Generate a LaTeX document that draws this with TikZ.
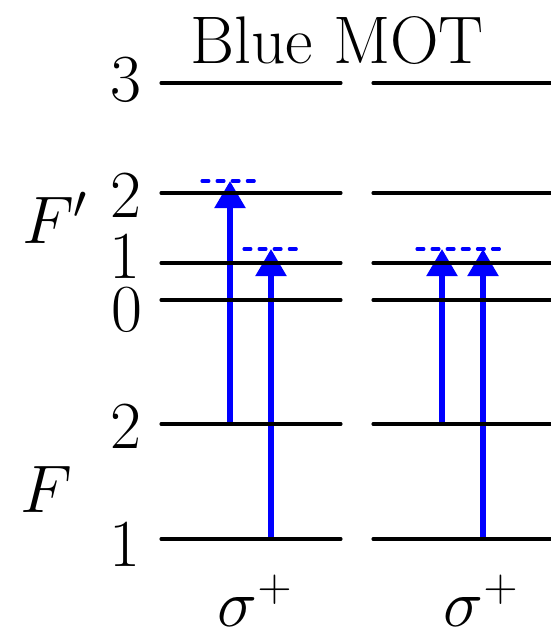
\RequirePackage{fix-cm}
\documentclass[tikz,border=0pt]{standalone}
\usetikzlibrary{arrows.meta}
\begin{document}
\begin{tikzpicture}[x=0.02cm,y=-0.02cm,
  lvl/.style={line width=1.75pt, black, line cap=round},
  lbl/.style={inner sep=0pt, font=\fontsize{38.3}{46}\selectfont},
  pump/.style={line width=3.1pt, blue, -{Triangle[length=0.54cm,width=0.6cm]}},
  virt/.style={line width=1.8pt, blue, dash pattern=on 3.9pt off 4.7pt, line cap=round}]
\useasboundingbox (0,0) rectangle (551,630);
% level coordinates
\foreach \n/\y in {e3/83, e2/193, e1/263, e0/300, g2/424, g1/539}{
  \coordinate (L\n) at (161,\y);
  \coordinate (R\n) at (341,\y);
  \coordinate (LL\n) at (373,\y);
  \coordinate (RR\n) at (560,\y);
}
% virtual levels
\coordinate (va1) at (202,181); \coordinate (vb1) at (258,181);
\coordinate (va2) at (244,249); \coordinate (vb2) at (299,249);
\coordinate (va3) at (417,249); \coordinate (vb3) at (502,249);
% arrow endpoints
\coordinate (p1s) at (230,424); \coordinate (p1e) at (230,181);
\coordinate (p2s) at (271,539); \coordinate (p2e) at (271,249);
\coordinate (p3s) at (442,424); \coordinate (p3e) at (442,249);
\coordinate (p4s) at (483,539); \coordinate (p4e) at (483,249);
% dashed virtual levels
\draw[virt] (va1) -- (vb1);
\draw[virt] (va2) -- (vb2);
\draw[virt] (va3) -- (vb3);
% pump arrows
\draw[pump] (p1s) -- (p1e);
\draw[pump] (p2s) -- (p2e);
\draw[pump] (p3s) -- (p3e);
\draw[pump] (p4s) -- (p4e);
% levels
\foreach \n in {e3,e2,e1,e0,g2,g1}{
  \draw[lvl] (L\n) -- (R\n);
  \draw[lvl] (LL\n) -- (RR\n);
}
% labels
\node[lbl] (t3) at (126,80) {$3$};
\node[lbl] (t2) at (126,196) {$2$};
\node[lbl] (t1) at (125,257) {$1$};
\node[lbl] (t0) at (127,310) {$0$};
\node[lbl] (tg2) at (126,427) {$2$};
\node[lbl] (tg1) at (125,545) {$1$};
\node[lbl,anchor=base] (Fp) at (55,243) {$F'$};
\node[lbl,anchor=base] (F) at (46,512) {$F$};
\node[lbl,anchor=base] (title) at (337,63) {Blue MOT};
\node[lbl,anchor=base] (s1) at (255,626) {$\sigma^+$};
\node[lbl,anchor=base] (s2) at (481,626) {$\sigma^+$};
\end{tikzpicture}
\end{document}
